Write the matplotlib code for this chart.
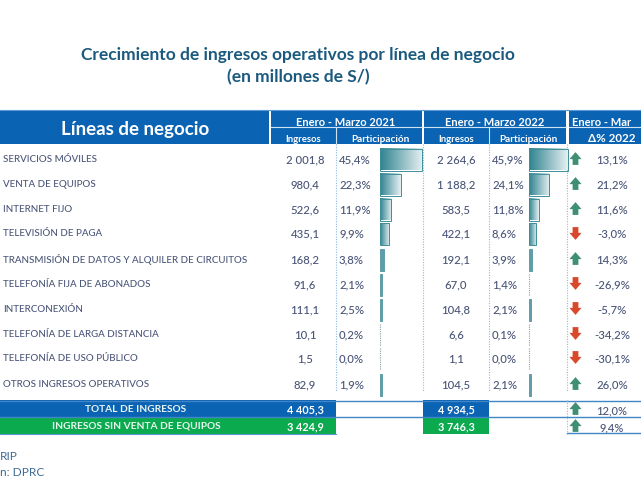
import numpy as np
import matplotlib
matplotlib.use('Agg')
import matplotlib.pyplot as plt
from matplotlib.patches import Rectangle
from matplotlib.path import Path

categories = ['SERVICIOS MÓVILES', 'VENTA DE EQUIPOS', 'INTERNET FIJO', 'TELEVISIÓN DE PAGA',
              'TRANSMISIÓN DE DATOS Y ALQUILER DE CIRCUITOS', 'TELEFONÍA FIJA DE ABONADOS',
              'INTERCONEXIÓN', 'TELEFONÍA DE LARGA DISTANCIA', 'TELEFONÍA DE USO PÚBLICO',
              'OTROS INGRESOS OPERATIVOS']
ingresos_2021 = ['2 001,8', '980,4', '522,6', '435,1', '168,2', '91,6', '111,1', '10,1', '1,5', '82,9']
share_2021 = [45.4, 22.3, 11.9, 9.9, 3.8, 2.1, 2.5, 0.2, 0.0, 1.9]
ingresos_2022 = ['2 264,6', '1 188,2', '583,5', '422,1', '192,1', '67,0', '104,8', '6,6', '1,1', '104,5']
share_2022 = [45.9, 24.1, 11.8, 8.6, 3.9, 1.4, 2.1, 0.1, 0.0, 2.1]
delta = [13.1, 21.2, 11.6, -3.0, 14.3, -26.9, -5.7, -34.2, -30.1, 26.0]
total_row = ['TOTAL DE INGRESOS', '4 405,3', '4 934,5', 12.0]
sin_equipos_row = ['INGRESOS SIN VENTA DE EQUIPOS', '3 424,9', '3 746,3', 9.4]
title_lines = ['Crecimiento de ingresos operativos por línea de negocio', '(en millones de S/)']
source_lines = ['RIP', 'n: DPRC']

plt.rcParams['font.family'] = ['Lato', 'DejaVu Sans']
DPI = 100
fig = plt.figure(figsize=(6.41, 4.80), dpi=DPI)
ax = fig.add_axes([0, 0, 1, 1])
ax.set_xlim(0, 641)
ax.set_ylim(480, 0)
ax.axis('off')

BLUE = '#0B63B3'
GREEN = '#0BAA4E'
LINE = '#5B9BD5'
TXT = '#4A5578'
NAVY = '#1B5A7E'
TEAL = '#3F8F9B'
row_y = [159.5, 184.5, 209.5, 234, 259.5, 284.5, 309.5, 334.5, 358.5, 384.5]

def fmt(v):
    return f'{v:.1f}'.replace('.', ',') + '%'

for i, line in enumerate(title_lines):
    ax.text(298, 55 + i * 22, line, ha='center', va='center',
            fontsize=12.5, color=NAVY, weight='bold')

def rect(x0, y0, x1, y1, **kw):
    ax.add_patch(Rectangle((x0, y0), x1 - x0, y1 - y0, lw=0, **kw))

rect(0, 110, 269, 144, color=BLUE)
for x0, x1 in [(271, 422), (424, 566), (569, 641)]:
    rect(x0, 110, x1, 144, color=BLUE)
    ax.plot([x0, x1], [127, 127], color='#CFE3F5', lw=0.8)
ax.plot([0, 641], [109.5, 109.5], color=LINE, lw=0.8)
for x in (336, 489):
    ax.plot([x, x], [128, 144], color='#CFE3F5', lw=0.8)

hkw = dict(ha='center', va='center', color='white', weight='bold')
ax.text(135, 130, 'Líneas de negocio', fontsize=13.5, **hkw)
ax.text(346, 122, 'Enero - Marzo 2021', fontsize=8, **hkw)
ax.text(495, 122, 'Enero - Marzo 2022', fontsize=8, **hkw)
ax.text(572, 122, 'Enero - Mar', fontsize=8, ha='left', va='center', color='white', weight='bold')
ax.text(303, 139.5, 'Ingresos', fontsize=6.8, **hkw)
ax.text(380, 139.5, 'Participación', fontsize=7.2, **hkw)
ax.text(456, 139.5, 'Ingresos', fontsize=6.8, **hkw)
ax.text(528, 139.5, 'Participación', fontsize=7.2, **hkw)
ax.text(612, 138, 'Δ% 2022', fontsize=8.4, **hkw)

for x in (336, 423, 489, 567):
    ax.plot([x, x], [144, 392], color='#8DB9DE', lw=0.8, ls=(0, (1, 1.3)))

grad = np.linspace(0, 1, 128).reshape(1, -1)
cmap = matplotlib.colors.LinearSegmentedColormap.from_list('g', ['#2F8390', '#E6F0F2'])
for shares, x0, k in [(share_2021, 380, 0.93), (share_2022, 529, 0.84)]:
    bars = ax.barh(row_y, [s * k for s in shares], height=22, left=x0,
                   facecolor='none', edgecolor=TEAL, lw=0.7, zorder=3)
    for b, s in zip(bars, shares):
        w = b.get_width()
        if w < 1.2:
            ax.plot([x0, x0], [b.get_y(), b.get_y() + 22], color='#8F9FA5', lw=0.8,
                    ls=(0, (1, 1)), zorder=3)
            b.set_visible(False)
        elif w < 5:
            b.set_facecolor('#5F9EA8')
            b.set_edgecolor('#5F9EA8')
        else:
            ax.imshow(grad, extent=[x0, x0 + w, b.get_y() + 22, b.get_y()], cmap=cmap,
                      aspect='auto', zorder=2)
ax.set_xlim(0, 641)
ax.set_ylim(480, 0)

up = Path([(-.45, -1), (.45, -1), (.45, -.1), (.95, -.1), (0, 1), (-.95, -.1), (-.45, -.1), (-.45, -1)], closed=True)
dn = Path([(-.45, 1), (.45, 1), (.45, .1), (.95, .1), (0, -1), (-.95, .1), (-.45, .1), (-.45, 1)], closed=True)

def arrow(x, y, v):
    ax.scatter([x], [y], marker=up if v >= 0 else dn, s=85,
               color='#3F8F72' if v >= 0 else '#D9482B', lw=0, zorder=4)

kw = dict(va='center', fontsize=8.2, color=TXT, weight='medium')
for i, y in enumerate(row_y):
    ax.text(3, y, categories[i], ha='left', va='center', fontsize=7.05, color=TXT, weight='medium')
    ax.text(305, y, ingresos_2021[i], ha='center', **kw)
    ax.text(339, y, fmt(share_2021[i]), ha='left', **kw)
    ax.text(456, y, ingresos_2022[i], ha='center', **kw)
    ax.text(492, y, fmt(share_2022[i]), ha='left', **kw)
    ax.text(612, y, fmt(delta[i]), ha='center', **kw)
    arrow(575, y - 1.5, delta[i])

rect(0, 400, 336, 417, color=BLUE)
rect(0, 417, 336, 434, color=GREEN)
rect(423, 400, 489, 417, color=BLUE)
rect(423, 417, 489, 434, color=GREEN)
for y in (400.5, 417):
    ax.plot([0, 641], [y, y], color='#3F86C8', lw=1)
ax.plot([567, 641], [433, 433], color='#3F86C8', lw=1)
ax.plot([0, 336], [434, 434], color=LINE, lw=0.8)
ax.plot([567, 567], [400, 434], color='#8DB9DE', lw=0.8, ls=(0, (1, 1.3)))

for row, y in [(total_row, 409.5), (sin_equipos_row, 426.5)]:
    ax.text(136, y, row[0], ha='center', va='center', fontsize=7.3, color='#E8F5F0', weight='bold')
    ax.text(305, y, row[1], ha='center', va='center', fontsize=7.8, color='white', weight='bold')
    ax.text(456, y, row[2], ha='center', va='center', fontsize=7.8, color='white', weight='bold')
    ax.text(612, y + 1, fmt(row[3]), ha='center', va='center', fontsize=8, color=TXT, weight='medium')
    arrow(575, y - 1.5, row[3])

ax.text(0, 456, source_lines[0], ha='left', va='center', fontsize=8.6, color='#3F6C94')
ax.text(0, 472, source_lines[1], ha='left', va='center', fontsize=8.6, color='#3F6C94')

fig.savefig('out.png', dpi=DPI)
